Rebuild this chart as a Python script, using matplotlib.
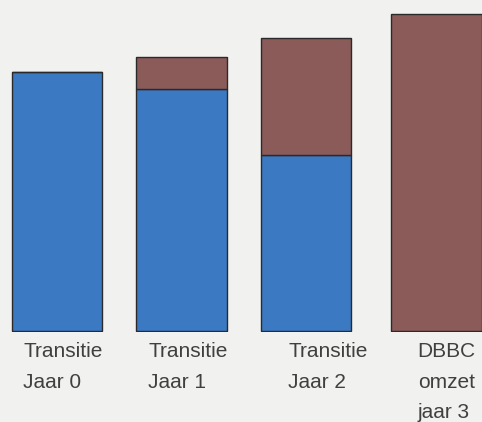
import matplotlib.pyplot as plt

# stacked bars: blue = transitie, brown = DBBC omzet
labels = ["Transitie\nJaar 0", "Transitie\nJaar 1", "Transitie\nJaar 2", "DBBC\nomzet\njaar 3"]
blue = [259, 242, 176, 0]
brown = [0, 32, 117, 317]

x = [0, 1, 2, 3.05]
label_offset = [-0.273, -0.269, -0.141, -0.153]

fig = plt.figure(figsize=(4.82, 4.22), dpi=100)
fig.patch.set_facecolor("#f1f1ef")
ax = fig.add_axes([0, 90 / 422, 1, 332 / 422])
ax.set_facecolor("#f1f1ef")

ax.bar(x, blue, width=0.73, bottom=1, color="#3b79c2", edgecolor="#2a2a2a", linewidth=1)
ax.bar(x, brown, width=0.73, bottom=[b + 1 for b in blue], color="#8b5b59",
       edgecolor="#2a2a2a", linewidth=1)

for i, lab in enumerate(labels):
    ax.text(x[i] + label_offset[i], -10, lab, ha="left", va="top", fontsize=15,
            family="Liberation Sans", color="#404040", linespacing=1.78, clip_on=False)

ax.set_xlim(-0.458, 3.414)
ax.set_ylim(0, 332)
ax.axis("off")

fig.savefig("out.png", dpi=100, facecolor=fig.get_facecolor())
